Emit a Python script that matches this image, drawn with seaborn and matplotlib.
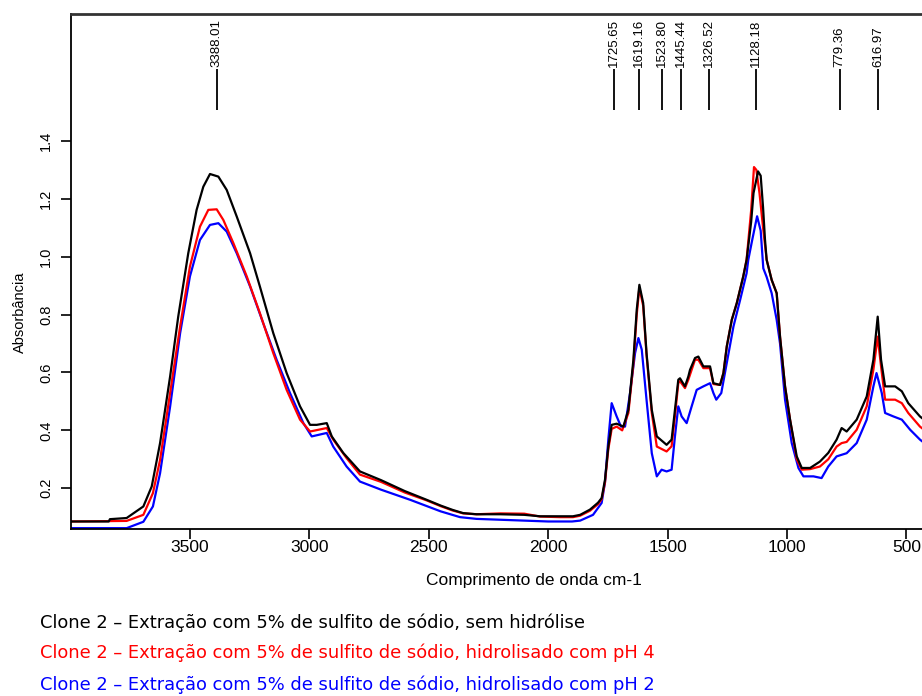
import numpy as np
import pandas as pd
import matplotlib
matplotlib.use("Agg")
import matplotlib.pyplot as plt
import seaborn as sns

# ---------------- data ----------------
wn_black = [3998, 3840, 3835, 3765, 3695, 3660, 3625, 3583, 3549, 3507, 3472, 3444, 3416, 3381, 3346,
            3304, 3248, 3207, 3151, 3095, 3039, 2997, 2969, 2927, 2906, 2858, 2788, 2700, 2600, 2509,
            2450, 2400, 2356, 2300, 2200, 2100, 2034, 1950, 1896, 1866, 1825, 1791, 1776, 1762, 1748,
            1734, 1713, 1685, 1664, 1643, 1629, 1618, 1602, 1588, 1566, 1545, 1504, 1483, 1469, 1455,
            1448, 1427, 1413, 1406, 1385, 1371, 1350, 1322, 1308, 1280, 1266, 1252, 1231, 1210, 1183,
            1169, 1150, 1140, 1121, 1110, 1100, 1092, 1085, 1064, 1043, 1029, 1008, 987, 959, 938,
            903, 862, 827, 792, 771, 750, 708, 666, 638, 620, 606, 589, 547, 519, 492, 443, 400]
abs_black = [0.085, 0.085, 0.093, 0.097, 0.137, 0.206, 0.356, 0.586, 0.793, 1.012, 1.162, 1.242, 1.286, 1.277, 1.231,
             1.139, 1.012, 0.897, 0.736, 0.598, 0.483, 0.419, 0.419, 0.425, 0.379, 0.322, 0.258, 0.228, 0.190, 0.160,
             0.140, 0.125, 0.114, 0.110, 0.110, 0.108, 0.103, 0.103, 0.103, 0.108, 0.126, 0.150, 0.166, 0.229, 0.344,
             0.419, 0.423, 0.413, 0.471, 0.644, 0.817, 0.903, 0.840, 0.667, 0.471, 0.379, 0.350, 0.368, 0.471, 0.575,
             0.580, 0.552, 0.586, 0.609, 0.650, 0.655, 0.621, 0.621, 0.563, 0.557, 0.598, 0.690, 0.782, 0.840, 0.932,
             0.989, 1.120, 1.220, 1.295, 1.280, 1.170, 1.060, 0.989, 0.920, 0.874, 0.724, 0.552, 0.437, 0.310, 0.270,
             0.270, 0.292, 0.322, 0.368, 0.408, 0.396, 0.437, 0.517, 0.644, 0.793, 0.644, 0.552, 0.552, 0.535, 0.494, 0.448, 0.420]

wn_red = [3998, 3765, 3695, 3655, 3625, 3583, 3541, 3500, 3458, 3423, 3388, 3360, 3318, 3262, 3207,
          3151, 3095, 3039, 2997, 2927, 2900, 2844, 2788, 2700, 2600, 2509, 2450, 2400, 2356, 2300,
          2200, 2100, 2034, 1950, 1896, 1866, 1825, 1791, 1776, 1762, 1748, 1734, 1713, 1690, 1664,
          1643, 1629, 1618, 1602, 1588, 1566, 1545, 1504, 1483, 1469, 1455, 1448, 1427, 1413, 1385,
          1371, 1350, 1322, 1308, 1280, 1266, 1252, 1231, 1210, 1183, 1169, 1150, 1138, 1128, 1115,
          1100, 1085, 1064, 1043, 1029, 1008, 987, 959, 938, 903, 862, 827, 792, 771, 750,
          708, 666, 638, 620, 606, 589, 547, 519, 492, 443, 400]
abs_red = [0.085, 0.087, 0.108, 0.183, 0.298, 0.529, 0.759, 0.966, 1.104, 1.162, 1.164, 1.127, 1.047, 0.932, 0.805,
           0.667, 0.540, 0.437, 0.396, 0.408, 0.368, 0.304, 0.247, 0.222, 0.185, 0.158, 0.138, 0.123, 0.113, 0.110,
           0.113, 0.112, 0.102, 0.100, 0.100, 0.105, 0.122, 0.145, 0.162, 0.220, 0.335, 0.405, 0.413, 0.400, 0.460,
           0.630, 0.800, 0.893, 0.830, 0.660, 0.460, 0.344, 0.327, 0.345, 0.450, 0.563, 0.570, 0.546, 0.575, 0.644,
           0.644, 0.615, 0.615, 0.560, 0.557, 0.598, 0.690, 0.782, 0.840, 0.932, 0.990, 1.160, 1.310, 1.300, 1.220,
           1.100, 0.990, 0.920, 0.874, 0.724, 0.552, 0.437, 0.300, 0.264, 0.266, 0.275, 0.300, 0.344, 0.356, 0.360,
           0.402, 0.483, 0.610, 0.724, 0.621, 0.506, 0.506, 0.494, 0.460, 0.413, 0.385]

wn_blue = [3998, 3765, 3695, 3655, 3625, 3583, 3541, 3500, 3458, 3416, 3381, 3346, 3304, 3248, 3193,
           3137, 3081, 3025, 2990, 2927, 2900, 2844, 2788, 2700, 2578, 2450, 2369, 2300, 2200, 2100,
           2000, 1900, 1866, 1812, 1776, 1762, 1748, 1734, 1713, 1695, 1678, 1657, 1636, 1622, 1608,
           1588, 1566, 1545, 1525, 1504, 1483, 1469, 1455, 1441, 1420, 1399, 1378, 1350, 1322, 1308,
           1296, 1275, 1252, 1224, 1196, 1169, 1162, 1145, 1125, 1110, 1099, 1085, 1064, 1043, 1029,
           1008, 980, 952, 931, 889, 855, 827, 792, 750, 708, 666, 638, 625, 603, 589,
           554, 519, 484, 443, 400]
abs_blue = [0.062, 0.062, 0.084, 0.137, 0.252, 0.482, 0.736, 0.932, 1.058, 1.110, 1.116, 1.087, 1.012, 0.897, 0.770,
            0.644, 0.529, 0.425, 0.379, 0.391, 0.344, 0.275, 0.223, 0.195, 0.160, 0.120, 0.100, 0.094, 0.091, 0.088,
            0.085, 0.085, 0.088, 0.108, 0.149, 0.220, 0.368, 0.494, 0.448, 0.413, 0.413, 0.529, 0.667, 0.719, 0.679,
            0.506, 0.321, 0.241, 0.264, 0.258, 0.264, 0.379, 0.483, 0.448, 0.425, 0.483, 0.540, 0.552, 0.563, 0.529,
            0.506, 0.529, 0.633, 0.759, 0.851, 0.943, 0.989, 1.060, 1.140, 1.090, 0.960, 0.930, 0.874, 0.782, 0.700,
            0.506, 0.356, 0.270, 0.241, 0.241, 0.235, 0.275, 0.310, 0.321, 0.356, 0.437, 0.552, 0.598, 0.529, 0.460,
            0.448, 0.437, 0.402, 0.368, 0.340]

series_names = ["Clone 2 \u2013 Extra\u00e7\u00e3o com 5% de sulfito de s\u00f3dio, sem hidr\u00f3lise",
                "Clone 2 \u2013 Extra\u00e7\u00e3o com 5% de sulfito de s\u00f3dio, hidrolisado com pH 4",
                "Clone 2 \u2013 Extra\u00e7\u00e3o com 5% de sulfito de s\u00f3dio, hidrolisado com pH 2"]
series_colors = ["#000000", "#ff0000", "#0000ff"]

peak_positions = [3388.01, 1725.65, 1619.16, 1523.80, 1445.44, 1326.52, 1128.18, 779.36, 616.97]
peak_labels = ["3388.01", "1725.65", "1619.16", "1523.80", "1445.44", "1326.52", "1128.18", "779.36", "616.97"]

x_ticks = [3500, 3000, 2500, 2000, 1500, 1000, 500]
y_ticks = [0.2, 0.4, 0.6, 0.8, 1.0, 1.2, 1.4]

# ---------------- long-form table ----------------
frames = []
for name, wn, ab in zip(series_names, [wn_black, wn_red, wn_blue], [abs_black, abs_red, abs_blue]):
    frames.append(pd.DataFrame({"wn": wn, "abs": ab, "serie": name}))
df = pd.concat(frames, ignore_index=True)

# ---------------- figure ----------------
sns.set_theme(style="ticks")
plt.rcParams["font.family"] = ["Liberation Sans", "DejaVu Sans"]
plt.rcParams["text.color"] = "black"

W, H = 922, 696
fig = plt.figure(figsize=(W / 100, H / 100), dpi=100)
ax_l, ax_r, ax_t, ax_b = 71, 930, 14, 529.3
ax = fig.add_axes([ax_l / W, 1 - ax_b / H, (ax_r - ax_l) / W, (ax_b - ax_t) / H])

palette = dict(zip(series_names, series_colors))
hue_order = [series_names[2], series_names[1], series_names[0]]
sns.lineplot(data=df, x="wn", y="abs", hue="serie", hue_order=hue_order, palette=palette,
             sort=False, estimator=None, units="serie", legend=False, linewidth=1.6, ax=ax)

ax.set_xlim(3998, 401)
ax.set_ylim(0.058, 1.839)
ax.set_xticks(x_ticks)
ax.set_xticklabels([str(v) for v in x_ticks])
ax.set_yticks(y_ticks)
ax.set_yticklabels([f"{v:.1f}" for v in y_ticks])
ax.set_xlabel("")
ax.set_ylabel("")

for s in ["left", "bottom"]:
    ax.spines[s].set_linewidth(1.3)
    ax.spines[s].set_color("black")
ax.spines["top"].set_linewidth(2.0)
ax.spines["top"].set_color("#333333")
ax.spines["right"].set_visible(False)

ax.tick_params(axis="x", direction="out", length=7, width=1.2, labelsize=12.5, pad=1, colors="black")
ax.tick_params(axis="y", direction="out", length=7, width=1.2, labelsize=10.5, pad=6, colors="black",
               labelrotation=90)
for lab in ax.get_yticklabels():
    lab.set_va("center")

# peak markers
ax.vlines(peak_positions, 1.507, 1.648, colors="black", linewidth=1.3)
for xp, lab in zip(peak_positions, peak_labels):
    ax.text(xp, 1.655, lab, rotation=90, ha="center", va="bottom", fontsize=9.5, color="black")

# axis titles
fig.text(534 / W, 1 - 580 / H, "Comprimento de onda cm-1", ha="center", va="center", fontsize=12.5,
         color="black")
fig.text(20 / W, 1 - 312 / H, "Absorb\u00e2ncia", ha="center", va="center", rotation=90, fontsize=10.5,
         color="black")

# legend-like captions
for name, col, yc in zip(series_names, series_colors, [623, 653, 685]):
    fig.text(40 / W, 1 - yc / H, name, ha="left", va="center", color=col, fontsize=12.9,
             family=["DejaVu Sans"])

fig.savefig("out.png", dpi=100)
